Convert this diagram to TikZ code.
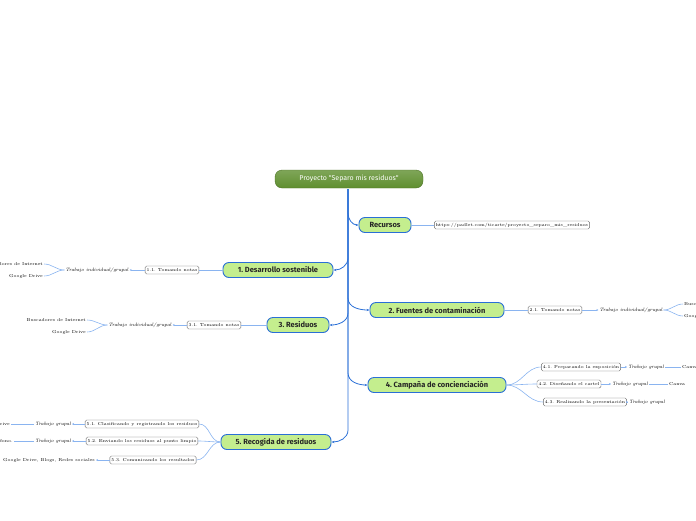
\documentclass[tikz,border=0pt]{standalone}
\usepackage{fontspec}
\newfontfamily\sansf{Fira Sans}
\usetikzlibrary{arrows.meta}
\definecolor{lb}{HTML}{8AB4F0}
\definecolor{db}{HTML}{2A6FD6}
\definecolor{mg}{HTML}{C4EE8E}
\definecolor{rg}{HTML}{5F8F2F}
\frenchspacing
\begin{document}
\begin{tikzpicture}[x=1pt,y=-1pt,
 main/.style={draw=db,line width=0.9pt,fill=mg,rounded corners=6pt,minimum height=15pt,font=\sansf\fontsize{7.5}{8}\selectfont\bfseries,text=black!85,inner xsep=8pt},
 sub/.style={draw=gray!80!black,rounded corners=1.5pt,fill=white,font=\fontsize{4.3}{5}\selectfont,inner sep=1.5pt,minimum height=8pt},
 tx/.style={font=\fontsize{4.3}{5}\selectfont,inner sep=1pt},
 it/.style={font=\itshape\fontsize{4.8}{5}\selectfont,inner sep=1pt},
 bc/.style={db,line width=0.8pt,-{Stealth[length=3pt]}},
 lc/.style={lb,line width=0.6pt},
 la/.style={lb,line width=0.6pt,-{Stealth[length=2pt,width=2pt]}}]
\useasboundingbox (0,0) rectangle (696,520);
\clip (0,0) rectangle (696,520);
\node[draw=rg!80!black,top color=rg!80,bottom color=rg,text=white,rounded corners=7pt,minimum width=148pt,minimum height=18pt,font=\sansf\fontsize{7}{8}\selectfont] (root) at (349,179) {Proyecto "Separo mis residuos"};
\coordinate (r) at (348,189);
\node[main,minimum width=52pt] (rec) at (385,225) {Recursos};
\node[main,minimum width=110pt] (n1) at (278,270) {1. Desarrollo sostenible};
\node[main,minimum width=62pt] (n3) at (298,325) {3. Residuos};
\node[main,minimum width=134pt] (n2) at (437,310) {2. Fuentes de contaminación};
\node[main,minimum width=138pt] (n4) at (437,385) {4. Campaña de concienciación};
\node[main,minimum width=110pt] (n5) at (276,442) {5. Recogida de residuos};
\foreach \n in {rec,n2,n4} \draw[bc] (r) -- ([yshift=12pt]r|-\n.west) to[out=-90,in=180] (\n.west);
\foreach \n in {n1,n3,n5} \draw[bc] (r) -- ([yshift=12pt]r|-\n.east) to[out=-90,in=0] (\n.east);
% recursos
\node[sub] (url) at (512,225) {https://padlet.com/ticarte/proyecto\_separo\_mis\_residuos};
\draw[lc] (rec.east) -- (url.west);
% 1
\node[sub] (a11) at (172,270) {1.1. Tomando notas};
\node[it] (t11) at (97,270) {Trabajo individual/grupal};
\node[tx,anchor=east] (b11) at (44,264) {Buscadores de Internet};
\node[tx,anchor=east] (g11) at (44,276) {Google Drive};
\draw[lc] (n1.west) -- (a11.east); \draw[la] (a11.west) -- (t11.east);
\draw[lc] (t11.west) to[out=180,in=0] (b11.east); \draw[lc] (t11.west) to[out=180,in=0] (g11.east);
% 3
\node[sub] (a31) at (214,325) {3.1. Tomando notas};
\node[it] (t31) at (140,325) {Trabajo individual/grupal};
\node[tx,anchor=east] (b31) at (87,320) {Buscadores de Internet};
\node[tx,anchor=east] (g31) at (87,332) {Google Drive};
\draw[lc] (n3.west) -- (a31.east); \draw[la] (a31.west) -- (t31.east);
\draw[lc] (t31.west) to[out=180,in=0] (b31.east); \draw[lc] (t31.west) to[out=180,in=0] (g31.east);
% 2
\node[sub] (a21) at (555,310) {2.1. Tomando notas};
\node[it] (t21) at (631,310) {Trabajo individual/grupal};
\node[tx,anchor=west] (b21) at (683,304) {Buscadores de Internet};
\node[tx,anchor=west] (g21) at (683,316) {Google Drive};
\draw[lc] (n2.east) -- (a21.west); \draw[la] (a21.east) -- (t21.west);
\draw[lc] (t21.east) to[out=0,in=180] (b21.west); \draw[lc] (t21.east) to[out=0,in=180] (g21.west);
% 4
\node[sub] (a41) at (581,367) {4.1. Preparando la exposición};
\node[sub] (a42) at (569,384) {4.2. Diseñando el cartel};
\node[sub] (a43) at (585,402) {4.3. Realizando la presentación};
\node[it] (t41) at (646,367) {Trabajo grupal};
\node[it] (t42) at (630,384) {Trabajo grupal};
\node[it] (t43) at (647,402) {Trabajo grupal};
\node[tx,anchor=west] (c41) at (681,367) {Canva};
\node[tx,anchor=west] (c42) at (668,384) {Canva};
\foreach \a in {a41,a42,a43} \draw[lc] (n4.east) to[out=0,in=180] (\a.west);
\draw[la] (a41.east) -- (t41.west); \draw[la] (a42.east) -- (t42.west); \draw[la] (a43.east) -- (t43.west);
\draw[lc] (t41.east) -- (c41.west); \draw[lc] (t42.east) -- (c42.west);
% 5
\node[sub] (a51) at (142,424) {5.1. Clasificando y registrando los residuos};
\node[sub] (a52) at (142,441) {5.2. Enviando los residuos al punto limpio};
\node[sub] (a53) at (153,460) {5.3. Comunicando los resultados};
\node[it] (t51) at (53,424) {Trabajo grupal};
\node[it] (t52) at (53,441) {Trabajo grupal};
\node[tx,anchor=east] (d51) at (11,424) {Google Drive};
\node[tx,anchor=east] (d52) at (14,441) {Teléfono.};
\node[tx,anchor=east] (d53) at (96,460) {Google Drive, Blogs, Redes sociales};
\foreach \a in {a51,a52,a53} \draw[lc] (n5.west) to[out=180,in=0] (\a.east);
\draw[la] (a51.west) -- (t51.east); \draw[la] (a52.west) -- (t52.east); \draw[la] (a53.west) -- (d53.east);
\draw[lc] (t51.west) -- (d51.east); \draw[lc] (t52.west) -- (d52.east);
\end{tikzpicture}
\end{document}
